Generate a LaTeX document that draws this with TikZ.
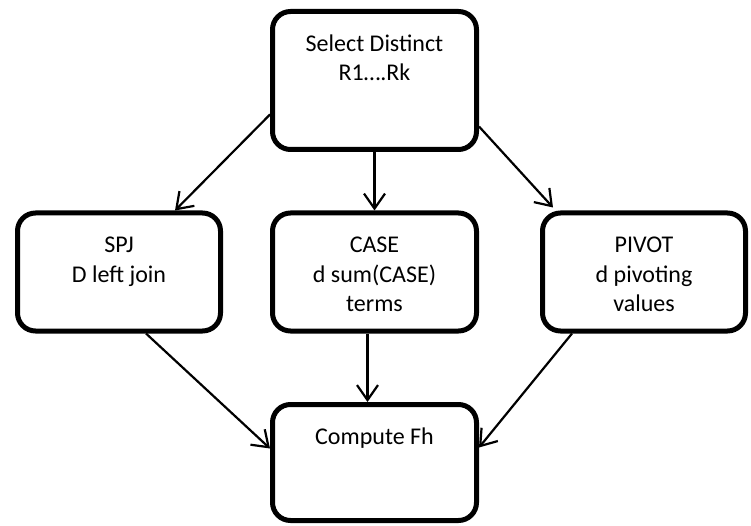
\documentclass[tikz,border=0pt]{standalone}
\usepackage{fontspec}
\setmainfont{Carlito}
\usetikzlibrary{arrows.meta}
\newcommand{\boxtext}[3]{\parbox[c][#2][t]{#1}{\centering\fontsize{24}{29}\selectfont\rule{0pt}{40pt}#3}}
\begin{document}
\begin{tikzpicture}[x=1pt,y=-1pt,
  flowbox/.style={draw=black, line width=5pt, rounded corners=18pt, inner sep=0pt, fill=white},
  flowarrow/.style={draw=black, line width=2.2pt, -{Straight Barb[length=15pt,width=21pt]}}]
\useasboundingbox (0,0) rectangle (751,526);
\node[flowbox] (top) at (374.5,80.5) {\boxtext{204pt}{138pt}{Select Distinct\\R1….Rk}};
\node[flowbox] (spj) at (119,272) {\boxtext{203pt}{118pt}{SPJ\\D left join}};
\node[flowbox] (case) at (374.5,272) {\boxtext{204pt}{118pt}{CASE\\d sum(CASE)\\terms}};
\node[flowbox] (pivot) at (644,272) {\boxtext{203pt}{118pt}{PIVOT\\d pivoting\\values}};
\node[flowbox] (compute) at (374.5,462.5) {\boxtext{204pt}{116pt}{Compute Fh}};
\draw[flowarrow] ([yshift=-34pt]top.west) -- ([xshift=56pt]spj.north);
\draw[flowarrow] (top.south) -- (case.north);
\draw[flowarrow] ([yshift=-46pt]top.east) -- ([xshift=-91pt,yshift=3pt]pivot.north);
\draw[flowarrow] ([xshift=27pt]spj.south) -- ([yshift=14pt]compute.west);
\draw[flowarrow] ([xshift=-7pt]case.south) -- ([xshift=-7pt]compute.north);
\draw[flowarrow] ([xshift=-72pt]pivot.south) -- ([yshift=15pt]compute.east);
\end{tikzpicture}
\end{document}
